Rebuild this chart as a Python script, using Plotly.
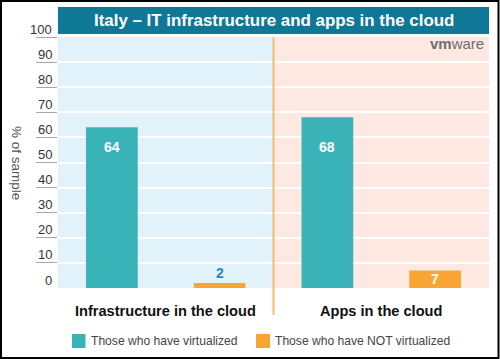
import plotly.graph_objects as go

categories = ["Infrastructure in the cloud", "Apps in the cloud"]
series_names = ["Those who have virtualized", "Those who have NOT virtualized"]
virtualized = [64, 68]
not_virtualized = [2, 7]
ytick_vals = [0, 10, 20, 30, 40, 50, 60, 70, 80, 90, 100]
ytick_text = ["0", "10", "20", "30", "40", "50", "60", "70", "80", "90", "100"]
title_text = "Italy – IT infrastructure and apps in the cloud"
y_title = "% of sample"

TEAL = "#3AB3B8"
ORANGE = "#F8A533"
BANNER = "#0E7896"
BLUE_BG = "#E1F2FB"
PINK_BG = "#FDE8E2"
DIVIDER = "#F5B970"
FONT = "Liberation Sans, Arial, sans-serif"

W, H = 500, 359
L, R, T, B = 58, 11, 37, 71
PW, PH = W - L - R, H - T - B


def px_x(x):
    return (x - L) / PW


def px_y(y):
    return (H - B - y) / PH


xpos = list(range(len(categories)))

fig = go.Figure()
fig.add_trace(go.Bar(x=xpos, y=virtualized, name=series_names[0], marker_color=TEAL,
                     marker_line_width=0, width=0.24, offset=-0.37, showlegend=False))
fig.add_trace(go.Bar(x=xpos, y=not_virtualized, name=series_names[1], marker_color=ORANGE,
                     marker_line_width=0, width=0.24, offset=0.13, showlegend=False))

shapes = []
# right panel background
shapes.append(dict(type="rect", xref="x", yref="paper", x0=0.5, x1=1.5, y0=0, y1=1,
                   fillcolor=PINK_BG, line_width=0, layer="below"))
# divider
shapes.append(dict(type="line", xref="x", yref="paper", x0=0.5, x1=0.5, y0=1, y1=px_y(315),
                   line=dict(color=DIVIDER, width=2)))
# banner
shapes.append(dict(type="rect", xref="paper", yref="paper", x0=0, x1=1, y0=px_y(34), y1=px_y(7),
                   fillcolor=BANNER, line_width=0))
# outer border
shapes.append(dict(type="rect", xref="paper", yref="paper", x0=px_x(1), x1=px_x(498.5),
                   y0=px_y(358), y1=px_y(1), line=dict(color="#000000", width=2)))
# legend swatches
shapes.append(dict(type="rect", xref="paper", yref="paper", x0=px_x(72), x1=px_x(85.5),
                   y0=px_y(348), y1=px_y(334), fillcolor=TEAL, line_width=0))
shapes.append(dict(type="rect", xref="paper", yref="paper", x0=px_x(256), x1=px_x(270),
                   y0=px_y(348), y1=px_y(334), fillcolor=ORANGE, line_width=0))

annotations = []
annotations.append(dict(text="<b>" + title_text + "</b>", xref="paper", yref="paper",
                        x=0.5, y=px_y(20.5), xanchor="center", yanchor="middle", showarrow=False,
                        font=dict(family=FONT, size=16.9, color="white")))
annotations.append(dict(text="<b>vm</b>ware", xref="paper", yref="paper",
                        x=px_x(486), y=px_y(44), xanchor="right", yanchor="middle", showarrow=False,
                        font=dict(family=FONT, size=15, color="#6E6E6E")))
# y tick labels (placed above the tick marks)
for v, t in zip(ytick_vals, ytick_text):
    annotations.append(dict(text=t, xref="paper", yref="y", x=px_x(53.5), y=v, xanchor="right",
                            yanchor="middle", yshift=8, showarrow=False,
                            font=dict(family=FONT, size=13, color="#333333")))
annotations.append(dict(text=y_title, xref="paper", yref="paper", x=px_x(17), y=px_y(163),
                        textangle=90, xanchor="center", yanchor="middle", showarrow=False,
                        font=dict(family=FONT, size=13.5, color="#555555")))
# category labels
for i, c in enumerate(categories):
    annotations.append(dict(text="<b>" + c + "</b>", xref="x", yref="paper", x=xpos[i],
                            y=px_y(311), xanchor="center", yanchor="middle", showarrow=False,
                            font=dict(family=FONT, size=14.6, color="#111111")))
# value labels
for i, v in enumerate(virtualized):
    annotations.append(dict(text="<b>%d</b>" % v, xref="x", yref="y", x=xpos[i] - 0.25, y=56,
                            xanchor="center", yanchor="middle", showarrow=False,
                            font=dict(family=FONT, size=14, color="white")))
for i, v in enumerate(not_virtualized):
    if v < 5:
        annotations.append(dict(text="<b>%d</b>" % v, xref="x", yref="y", x=xpos[i] + 0.25, y=v,
                                xanchor="center", yanchor="bottom", showarrow=False,
                                font=dict(family=FONT, size=14, color="#1E8CC0")))
    else:
        annotations.append(dict(text="<b>%d</b>" % v, xref="x", yref="y", x=xpos[i] + 0.25, y=v / 2,
                                xanchor="center", yanchor="middle", showarrow=False,
                                font=dict(family=FONT, size=14, color="white")))
# legend texts
annotations.append(dict(text=series_names[0], xref="paper", yref="paper", x=px_x(88.5), y=px_y(341),
                        xanchor="left", yanchor="middle", showarrow=False,
                        font=dict(family=FONT, size=12.1, color="#444444")))
annotations.append(dict(text=series_names[1], xref="paper", yref="paper", x=px_x(273), y=px_y(341),
                        xanchor="left", yanchor="middle", showarrow=False,
                        font=dict(family=FONT, size=12.1, color="#444444")))

fig.update_layout(
    width=W, height=H,
    margin=dict(l=L, r=R, t=T, b=B, pad=0),
    paper_bgcolor="white",
    plot_bgcolor=BLUE_BG,
    barmode="overlay",
    shapes=shapes,
    annotations=annotations,
    xaxis=dict(range=[-0.5, 1.5], showgrid=False, zeroline=False, showticklabels=False,
               ticks="", showline=False, fixedrange=True),
    yaxis=dict(range=[0, 100], tickvals=ytick_vals[1:], showticklabels=False,
               ticks="outside", ticklen=21, tickcolor="#A8A8A8", tickwidth=1,
               showgrid=True, gridcolor="white", gridwidth=1.5, zeroline=False,
               showline=False, fixedrange=True),
)

fig.write_html("out.html", config={"displayModeBar": False},
               post_script="document.body.style.margin='0';document.body.style.overflow='hidden';")
